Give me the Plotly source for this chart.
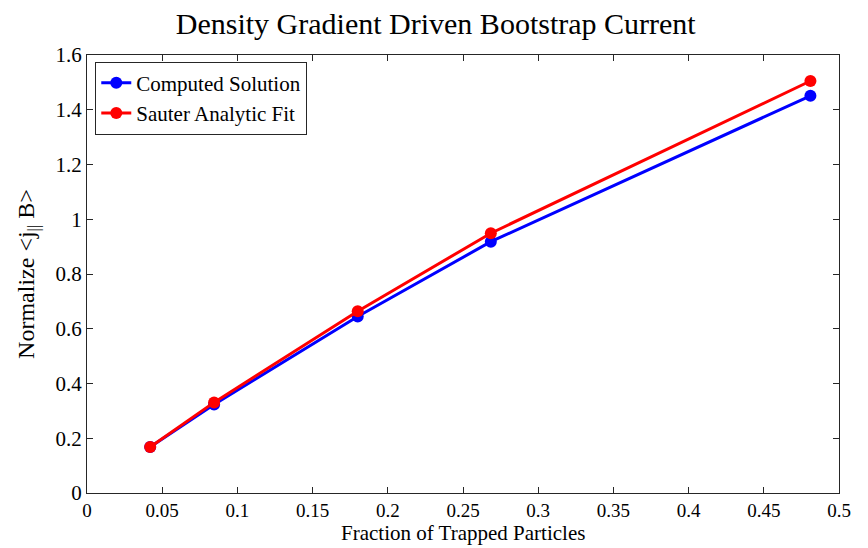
import plotly.graph_objects as go

x_vals = [0.042, 0.0845, 0.18, 0.2685, 0.481]
computed = [0.168, 0.323, 0.645, 0.918, 1.451]
sauter = [0.168, 0.331, 0.664, 0.949, 1.505]
x_ticks = [0, 0.05, 0.1, 0.15, 0.2, 0.25, 0.3, 0.35, 0.4, 0.45, 0.5]
x_tick_text = ["0", "0.05", "0.1", "0.15", "0.2", "0.25", "0.3", "0.35", "0.4", "0.45", "0.5"]
y_ticks = [0, 0.2, 0.4, 0.6, 0.8, 1.0, 1.2, 1.4, 1.6]
y_tick_text = ["0", "0.2", "0.4", "0.6", "0.8", "1", "1.2", "1.4", "1.6"]

FONT = "Liberation Serif"

fig = go.Figure()
fig.add_trace(go.Scatter(x=x_vals, y=computed, mode="lines+markers", name="Computed Solution",
                         line=dict(color="#0000ff", width=3), marker=dict(color="#0000ff", size=12)))
fig.add_trace(go.Scatter(x=x_vals, y=sauter, mode="lines+markers", name="Sauter Analytic Fit",
                         line=dict(color="#ff0000", width=3), marker=dict(color="#ff0000", size=12)))

axis_common = dict(showgrid=False, zeroline=False, showline=True, linecolor="#262626", linewidth=1,
                   mirror="ticks", ticks="inside", ticklen=6, tickcolor="#262626", automargin=False,
                   tickfont=dict(family=FONT, size=21, color="black"))

fig.update_layout(
    width=868, height=548,
    paper_bgcolor="white", plot_bgcolor="white",
    margin=dict(l=87, r=29, t=55, b=55),
    title=dict(text="Density Gradient Driven Bootstrap Current", x=0.502, xanchor="center",
               y=0.958, yanchor="middle", font=dict(family=FONT, size=30, color="black")),
    xaxis=dict(range=[0, 0.5], tickvals=x_ticks, ticktext=x_tick_text,
               **{**axis_common, "tickfont": dict(family=FONT, size=19, color="black")}),
    yaxis=dict(range=[0, 1.6], tickvals=y_ticks, ticktext=y_tick_text,
               title=dict(text="Normalize &lt;j<sub>||</sub> B&gt;", standoff=14,
                          font=dict(family=FONT, size=24, color="black")), **axis_common),
    legend=dict(x=0.011, y=0.985, xanchor="left", yanchor="top", bgcolor="white",
                bordercolor="#262626", borderwidth=1, font=dict(family=FONT, size=21, color="black"),
                itemwidth=30, tracegroupgap=0),
    showlegend=True,
)

fig.add_annotation(text="Fraction of Trapped Particles", xref="paper", yref="paper",
                   x=0.5, y=-0.1233, xanchor="center", yanchor="bottom", showarrow=False,
                   font=dict(family=FONT, size=21, color="black"))

fig.write_html("out.html")
